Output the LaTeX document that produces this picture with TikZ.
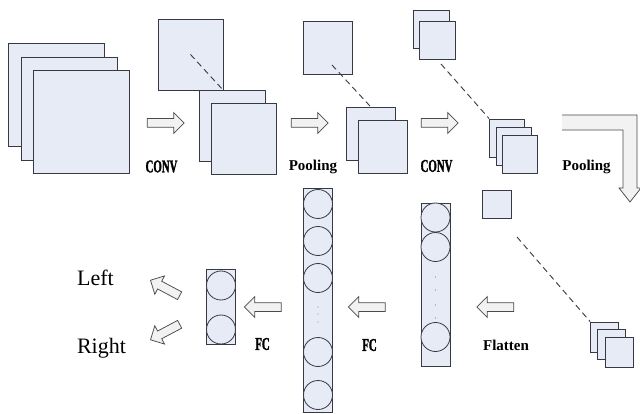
\documentclass[tikz,border=0pt]{standalone}
\usepackage{fontspec}
\setmainfont{Liberation Serif}
\newfontfamily\condfont[FakeStretch=0.6, FakeBold=1.5]{Liberation Serif}
\usepackage{tikz}
\usetikzlibrary{shapes.arrows, calc}
\definecolor{mapfill}{RGB}{230,235,245}
\definecolor{mapline}{RGB}{55,58,68}
\definecolor{arrfill}{RGB}{242,242,242}
\definecolor{arrline}{RGB}{75,75,75}

\begin{document}
\begin{tikzpicture}[
    x=1pt, y=-1pt,
    fmap/.style={draw=mapline, fill=mapfill, line width=0.8pt, inner sep=0pt},
    unit/.style={circle, draw=mapline, fill=mapfill, line width=0.8pt,
                 minimum size=29pt, inner sep=0pt},
    col/.style={draw=mapline, fill=mapfill, line width=0.8pt, inner sep=0pt,
                minimum width=29pt},
    harr/.style={single arrow, draw=arrline, fill=arrfill, line width=0.75pt,
                 inner sep=4pt, single arrow head extend=6pt,
                 single arrow head indent=0pt, minimum height=37pt},
    dashln/.style={draw=mapline, line width=0.9pt, dash pattern=on 6pt off 4pt},
    oplbl/.style={font=\condfont\bfseries\fontsize{18}{18}\selectfont},
    stplbl/.style={font=\bfseries\fontsize{15}{15}\selectfont},
    outlbl/.style={font=\fontsize{22}{22}\selectfont},
    dotmark/.style={circle, fill=mapline!60, inner sep=0pt, minimum size=1.4pt},
]
\useasboundingbox (0,0) rectangle (640,414);
\fill[white] (0,0) rectangle (640,414);

% input image
\node[fmap, minimum width=96pt, minimum height=103pt] (in1) at (56,94.5) {};
\node[fmap, minimum width=96pt, minimum height=103pt] (in2) at (69,108.5) {};
\node[fmap, minimum width=96pt, minimum height=103pt] (in3) at (81.5,122) {};

% first conv
\node[harr] (a1) at (163.5,123) {};
\node[oplbl] (conv1) at (161.5,166.5) {CONV};
\node[fmap, minimum width=65pt, minimum height=71pt] (k1) at (190.5,54.5) {};
\node[fmap, minimum width=66pt, minimum height=71pt] (c1a) at (232,125.5) {};
\node[fmap, minimum width=65pt, minimum height=71pt] (c1b) at (243.5,138.5) {};
\draw[dashln] (k1.center) -- (k1.south east);

% first pooling
\node[harr] (a2) at (307.5,123) {};
\node[stplbl] (pool1) at (313,167) {Pooling};
\node[fmap, minimum width=49pt, minimum height=53pt] (k2) at (327.5,47.5) {};
\node[fmap, minimum width=49pt, minimum height=53pt] (p1a) at (370.5,133.5) {};
\node[fmap, minimum width=49pt, minimum height=53pt] (p1b) at (382.5,147) {};
\coordinate (d2) at (332,65);
\draw[dashln] (d2) -- (p1a.north);

% second conv
\node[harr] (a3) at (437.5,123) {};
\node[oplbl] (conv2) at (436.5,166) {CONV};
\node[fmap, minimum width=36pt, minimum height=38pt] (k3a) at (431,29) {};
\node[fmap, minimum width=36pt, minimum height=38pt] (k3b) at (437,40) {};
\node[fmap, minimum width=35pt, minimum height=38pt] (c2a) at (507,138) {};
\node[fmap, minimum width=35pt, minimum height=38pt] (c2b) at (513.5,146) {};
\node[fmap, minimum width=35pt, minimum height=38pt] (c2c) at (519.5,154.5) {};
\coordinate (d3) at (441,64);
\draw[dashln] (d3) -- (c2a.north west);

% second pooling
\node[stplbl] (pool2) at (586.5,167) {Pooling};
\fill[arrfill] (562,115) -- (637,115) -- (637,188) -- (641,188) -- (630,202)
    -- (619,188) -- (623,188) -- (623,130) -- (562,130) -- cycle;
\draw[arrline, line width=0.75pt, line join=miter] (562,115) -- (637,115) -- (637,188)
    -- (641,188) -- (630,202) -- (619,188) -- (623,188) -- (623,130) -- (562,130);
\node[fmap, minimum width=29pt, minimum height=28pt] (k4) at (496.5,204) {};
\node[fmap, minimum width=28pt, minimum height=30pt] (p2a) at (604.5,337) {};
\node[fmap, minimum width=28pt, minimum height=30pt] (p2b) at (611.5,344.5) {};
\node[fmap, minimum width=28pt, minimum height=30pt] (p2c) at (619,352) {};
\coordinate (d4) at (517,237);
\draw[dashln] (d4) -- (p2a.north west);

% flatten
\node[harr, rotate=180] (a4) at (497.5,307) {};
\node[stplbl] (flat) at (506,345) {Flatten};
\node[col, minimum height=163pt] (flatcol) at (435.5,284.5) {};
\node[unit] (f1) at (435.5,217.5) {};
\node[unit] (f2) at (435.5,247) {};
\node[unit] (f3) at (435.5,337) {};
\foreach \y in {277,290,305,318}
  \node[dotmark] at (435.5,\y) {};

% fully connected
\node[harr, rotate=180] (a5) at (369,307) {};
\node[oplbl] (fc1) at (369.5,345) {FC};
\node[col, minimum height=224pt] (fccol) at (318,300) {};
\foreach \y/\n in {204/1,241/2,278/3,352/4,395/5}
  \node[unit] (h\n) at (318,\y) {};
\foreach \y in {307,314,322}
  \node[dotmark] at (318,\y) {};

\node[harr, rotate=180] (a6) at (265,307) {};
\node[oplbl] (fc2) at (262.5,344) {FC};
\node[col, minimum height=75pt] (outcol) at (221,306.5) {};
\node[unit] (o1) at (221,285.5) {};
\node[unit] (o2) at (221,329.5) {};

% output
\node[harr, rotate=152, minimum height=33pt] (a7) at (167,289) {};
\node[harr, rotate=208, minimum height=33pt] (a8) at (167,331) {};
\node[outlbl] (left) at (95.5,278) {Left};
\node[outlbl] (right) at (101.5,348) {Right};
\end{tikzpicture}
\end{document}
